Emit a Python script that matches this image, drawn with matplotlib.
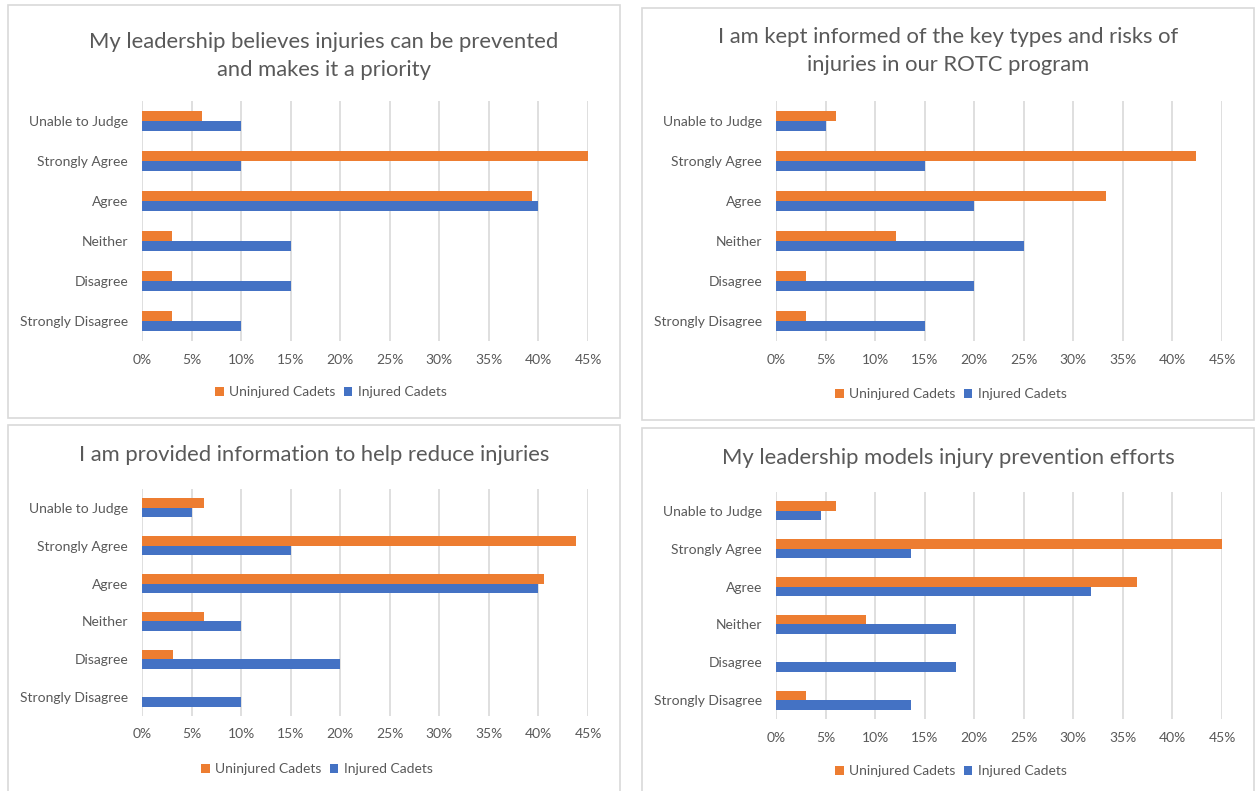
import matplotlib.pyplot as plt
from matplotlib.patches import Rectangle

plt.rcParams['font.family'] = ['Lato', 'DejaVu Sans']

W, H = 1258, 791

categories = ["Unable to Judge", "Strongly Agree", "Agree", "Neither",
              "Disagree", "Strongly Disagree"]
series_names = ["Uninjured Cadets", "Injured Cadets"]
xticks = [0, 5, 10, 15, 20, 25, 30, 35, 40, 45]

# percent of respondents, same order as categories
believes_uninjured = [6.1, 45.5, 39.4, 3.0, 3.0, 3.0]
believes_injured = [10, 10, 40, 15, 15, 10]

informed_uninjured = [6.1, 42.4, 33.3, 12.1, 3.0, 3.0]
informed_injured = [5, 15, 20, 25, 20, 15]

provided_uninjured = [6.25, 43.75, 40.6, 6.25, 3.1, 0]
provided_injured = [5, 15, 40, 10, 20, 10]

models_uninjured = [6.1, 45.5, 36.4, 9.1, 0, 3.0]
models_injured = [4.5, 13.6, 31.8, 18.2, 18.2, 13.6]

ORANGE = "#ED7D31"
BLUE = "#4472C4"
GRID = "#D9D9D9"
TXT = "#595959"

fig = plt.figure(figsize=(W / 100, H / 100), dpi=100)


def px_axes(x0, y0, x1, y1):
    return fig.add_axes([x0 / W, 1 - y1 / H, (x1 - x0) / W, (y1 - y0) / H])


def panel(box, plot, title, title_x, title_y, legend_xy, uninj, inj):
    bx0, by0, bx1, by1 = box
    fig.patches.append(Rectangle((bx0 / W, 1 - by1 / H), (bx1 - bx0) / W,
                                 (by1 - by0) / H, transform=fig.transFigure,
                                 fill=False, edgecolor=GRID, lw=1.2))
    for k, line in enumerate(title):
        fig.text(title_x / W, 1 - (title_y + 28 * k) / H, line, ha='center',
                 va='center', fontsize=15.8, color=TXT)

    ax = px_axes(*plot)
    ypos = list(range(len(categories)))
    ax.barh([y - 0.125 for y in ypos], uninj, height=0.25, color=ORANGE,
            label=series_names[0], zorder=3)
    ax.barh([y + 0.125 for y in ypos], inj, height=0.25, color=BLUE,
            label=series_names[1], zorder=3)
    ax.set_xlim(0, 45)
    ax.set_ylim(len(categories) - 0.5, -0.5)
    ax.set_yticks(ypos)
    ax.set_yticklabels(categories)
    ax.set_xticks(xticks)
    ax.set_xticklabels([f"{t}%" for t in xticks])
    ax.tick_params(length=0, labelsize=10, labelcolor=TXT)
    ax.tick_params(axis='y', pad=10)
    ax.tick_params(axis='x', pad=9)
    for s in ax.spines.values():
        s.set_visible(False)
    ax.grid(axis='x', color=GRID, lw=1.2, zorder=0)
    ax.set_axisbelow(True)
    lx, ly = legend_xy
    handles, labels = ax.get_legend_handles_labels()
    fig.legend(handles, labels, loc='center',
               bbox_to_anchor=(lx / W, 1 - ly / H), ncol=2, frameon=False,
               fontsize=10, labelcolor=TXT, handlelength=0.6,
               handleheight=0.6, handletextpad=0.4, columnspacing=0.6,
               borderpad=0)
    return ax


panel((8, 5, 620, 418), (142, 101, 588, 341),
      ["My leadership believes injuries can be prevented",
       "and makes it a priority"], 324, 42, (331, 392),
      believes_uninjured, believes_injured)
panel((642, 8, 1254, 420), (776, 101, 1222, 341),
      ["I am kept informed of the key types and risks of",
       "injuries in our ROTC program"], 948, 37, (951, 394),
      informed_uninjured, informed_injured)
panel((8, 425, 620, 800), (142, 489, 588, 716),
      ["I am provided information to help reduce injuries"], 314, 455,
      (317, 769), provided_uninjured, provided_injured)
panel((642, 428, 1254, 800), (776, 492, 1222, 719),
      ["My leadership models injury prevention efforts"], 948, 458,
      (951, 771), models_uninjured, models_injured)

fig.savefig("out.png", dpi=100)
